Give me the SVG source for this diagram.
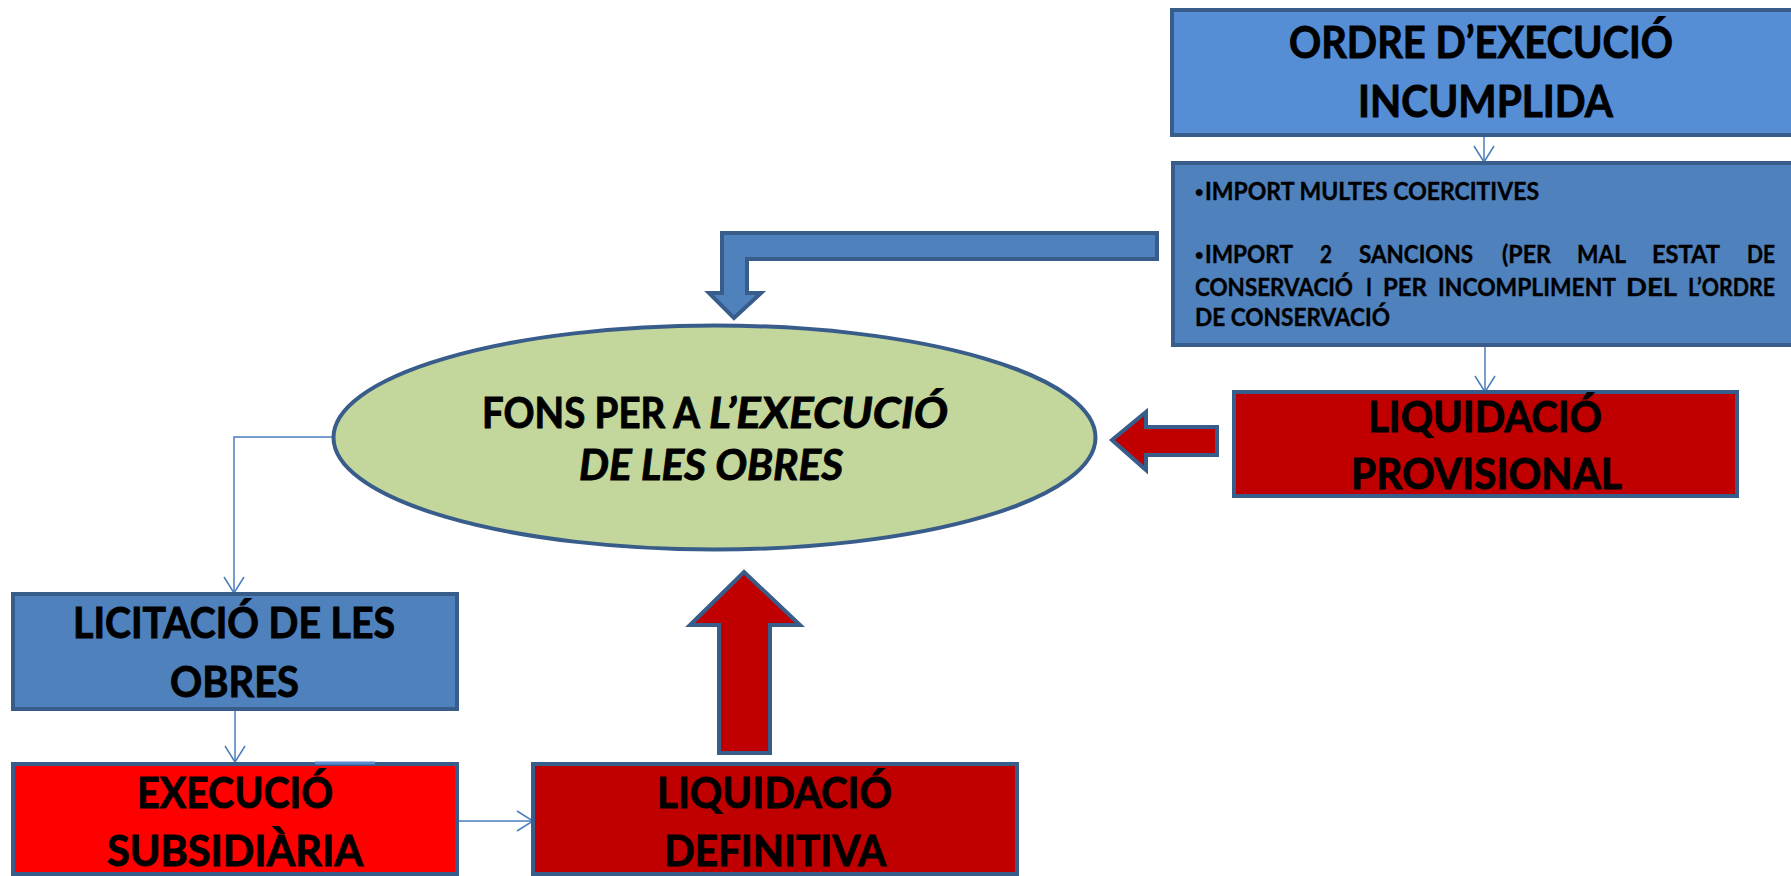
<svg xmlns="http://www.w3.org/2000/svg" width="1791" height="876" viewBox="0 0 1791 876">
<style>
.box{stroke:#385D8A;stroke-width:4}
.t{font-family:Lato,"Open Sans","Liberation Sans",sans-serif;font-weight:bold;fill:#000;stroke:#000;stroke-width:0.9}
.big{font-size:42px}
.hd{font-size:44px}
.sm{font-size:24px;stroke-width:0.4}
.bul{font-family:"Liberation Sans",Arial,sans-serif;font-size:24px;font-weight:bold;fill:#000}
.it{font-style:italic}
.conn{fill:none;stroke:#4A7EBB;stroke-width:1.5}
.blk{stroke:#385D8A;stroke-width:4;stroke-linejoin:miter}
</style>
<defs>
<marker id="arr" markerUnits="userSpaceOnUse" markerWidth="20" markerHeight="24" viewBox="0 0 20 24" refX="18" refY="12" orient="auto">
<path d="M2,2 L18,12 L2,22" fill="none" stroke="#4A7EBB" stroke-width="1.5"/>
</marker>
</defs>
<rect width="1791" height="876" fill="#FFFFFF"/>

<g id="connectors">
<line class="conn" x1="1484" y1="137" x2="1484" y2="162" marker-end="url(#arr)"/>
<line class="conn" x1="1485" y1="347" x2="1485" y2="392" marker-end="url(#arr)"/>
<polyline class="conn" points="334,437 234,437 234,593" marker-end="url(#arr)"/>
<line class="conn" x1="235" y1="711" x2="235" y2="762" marker-end="url(#arr)"/>
<line class="conn" x1="459" y1="821" x2="533" y2="821" marker-end="url(#arr)"/>
<polygon class="blk" fill="#4F81BD" points="1157,233 722,233 722,293 709,293 734,318 761,293 747,293 747,259 1157,259"/>
<polygon class="blk" fill="#C00000" points="1112,440 1146,412 1146,427 1217,427 1217,455 1146,455 1146,470"/>
<polygon class="blk" fill="#C00000" points="744,572 800,625 770,625 770,753 719,753 719,625 690,625"/>
</g>

<g id="node-ordre">
<rect class="box" x="1172" y="10" width="640" height="125" fill="#558ED5"/>
<text class="t hd" x="1289" y="58" textLength="384" lengthAdjust="spacingAndGlyphs">ORDRE D’EXECUCIÓ</text>
<text class="t hd" x="1358" y="117" textLength="255" lengthAdjust="spacingAndGlyphs">INCUMPLIDA</text>
</g>

<g id="node-imports">
<rect class="box" x="1173" y="163" width="640" height="182" fill="#4F81BD"/>
<text class="bul" x="1195" y="200">•</text>
<text class="t sm" x="1205" y="200" textLength="334" lengthAdjust="spacingAndGlyphs">IMPORT MULTES COERCITIVES</text>
<text class="bul" x="1195" y="263">•</text>
<text class="t sm" x="1205" y="263" textLength="88" lengthAdjust="spacingAndGlyphs">IMPORT</text>
<text class="t sm" x="1320" y="263" textLength="12" lengthAdjust="spacingAndGlyphs">2</text>
<text class="t sm" x="1359" y="263" textLength="114" lengthAdjust="spacingAndGlyphs">SANCIONS</text>
<text class="t sm" x="1502" y="263" textLength="49" lengthAdjust="spacingAndGlyphs">(PER</text>
<text class="t sm" x="1577" y="263" textLength="49" lengthAdjust="spacingAndGlyphs">MAL</text>
<text class="t sm" x="1652" y="263" textLength="68" lengthAdjust="spacingAndGlyphs">ESTAT</text>
<text class="t sm" x="1747" y="263" textLength="28" lengthAdjust="spacingAndGlyphs">DE</text>
<text class="t sm" x="1195" y="296" textLength="158" lengthAdjust="spacingAndGlyphs">CONSERVACIÓ</text>
<text class="t sm" x="1366" y="296" textLength="6" lengthAdjust="spacingAndGlyphs">I</text>
<text class="t sm" x="1383" y="296" textLength="44" lengthAdjust="spacingAndGlyphs">PER</text>
<text class="t sm" x="1438" y="296" textLength="178" lengthAdjust="spacingAndGlyphs">INCOMPLIMENT</text>
<text class="t sm" x="1626" y="296" textLength="51" lengthAdjust="spacingAndGlyphs">DEL</text>
<text class="t sm" x="1688" y="296" textLength="87" lengthAdjust="spacingAndGlyphs">L’ORDRE</text>
<text class="t sm" x="1195" y="326" textLength="195" lengthAdjust="spacingAndGlyphs">DE CONSERVACIÓ</text>
</g>

<g id="node-liq-provisional">
<rect class="box" x="1234" y="392" width="503" height="104" fill="#C00000"/>
<text class="t big" x="1368" y="432" textLength="234" lengthAdjust="spacingAndGlyphs">LIQUIDACIÓ</text>
<text class="t big" x="1351" y="489" textLength="271" lengthAdjust="spacingAndGlyphs">PROVISIONAL</text>
</g>

<g id="node-fons">
<ellipse cx="714.5" cy="437.5" rx="381" ry="112" fill="#C3D69B" stroke="#385D8A" stroke-width="4"/>
<text class="t big" x="482" y="428" textLength="218" lengthAdjust="spacingAndGlyphs">FONS PER A</text>
<text class="t big it" x="709" y="428" textLength="239" lengthAdjust="spacingAndGlyphs">L’EXECUCIÓ</text>
<text class="t big it" x="579" y="480" textLength="264" lengthAdjust="spacingAndGlyphs">DE LES OBRES</text>
</g>

<g id="node-licitacio">
<rect class="box" x="13" y="594" width="444" height="115" fill="#4F81BD"/>
<text class="t big" x="73" y="638" textLength="322" lengthAdjust="spacingAndGlyphs">LICITACIÓ DE LES</text>
<text class="t big" x="170" y="697" textLength="129" lengthAdjust="spacingAndGlyphs">OBRES</text>
</g>

<g id="node-execucio">
<rect class="box" x="13" y="764" width="444" height="110" fill="#FF0000"/>
<line x1="315" y1="763" x2="375" y2="763" stroke="#5B8BD0" stroke-width="3"/>
<text class="t big" x="137" y="808" textLength="196" lengthAdjust="spacingAndGlyphs">EXECUCIÓ</text>
<text class="t big" x="107" y="866" textLength="256" lengthAdjust="spacingAndGlyphs">SUBSIDIÀRIA</text>
</g>

<g id="node-liq-definitiva">
<rect class="box" x="533" y="764" width="484" height="110" fill="#C00000"/>
<text class="t big" x="657" y="808" textLength="235" lengthAdjust="spacingAndGlyphs">LIQUIDACIÓ</text>
<text class="t big" x="664" y="866" textLength="222" lengthAdjust="spacingAndGlyphs">DEFINITIVA</text>
</g>
</svg>
